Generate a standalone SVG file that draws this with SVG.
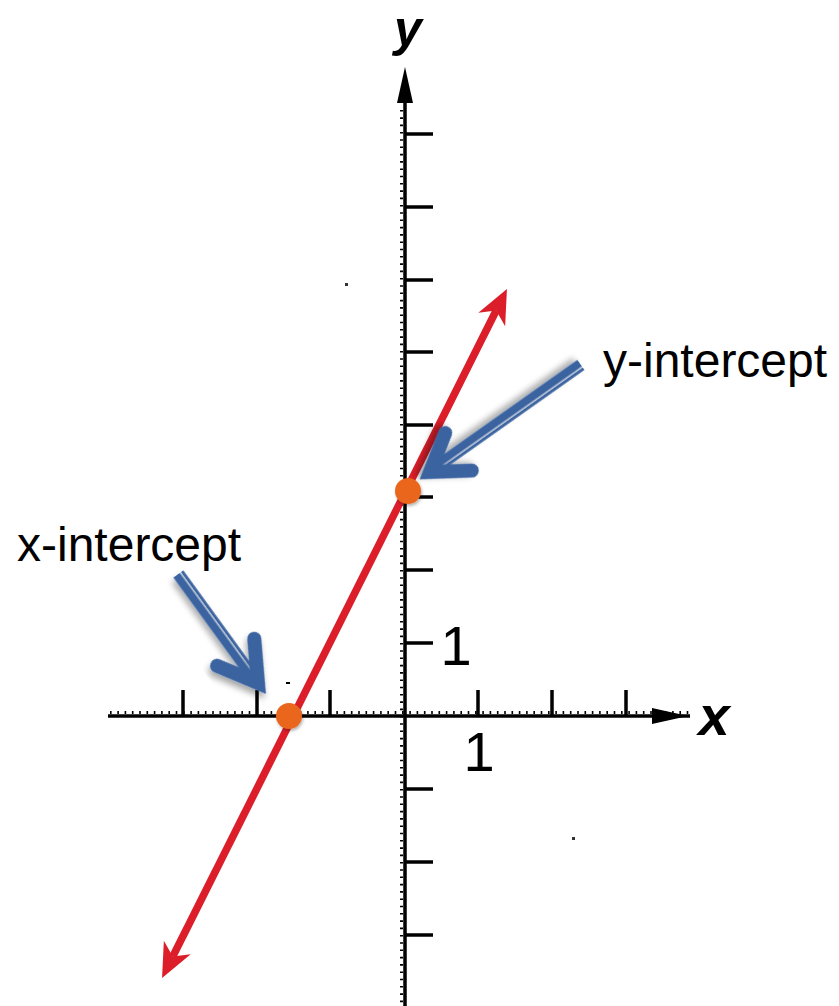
<svg xmlns="http://www.w3.org/2000/svg" width="839" height="1006" viewBox="0 0 839 1006">
  <style>
    .axis { stroke: #000; stroke-width: 3.5; fill: none; }
    .major { stroke: #000; stroke-width: 3.5; }
    .minor { stroke: #000; stroke-width: 3; fill: none; stroke-dasharray: 1.6 5.7; }
    .scan { font-family: "Liberation Sans", Arial, sans-serif; fill: #000; }
    .label { font-family: "Liberation Sans", Arial, sans-serif; font-size: 48px; fill: #000; }
    .redline { stroke: #DC1E2A; stroke-width: 7.5; fill: none; }
    .blue { stroke: #3A63A0; fill: none; }
    .dot { fill: #E9661B; }
  </style>
  <defs>
    <marker id="redhead" markerUnits="userSpaceOnUse" markerWidth="40" markerHeight="40" refX="-24" refY="0" orient="auto-start-reverse" overflow="visible">
      <path d="M0,0 L-34,-15 L-24,0 L-34,15 Z" fill="#DC1E2A"/>
    </marker>
    <filter id="shadow" x="-30%" y="-30%" width="160%" height="160%">
      <feDropShadow dx="3" dy="4" stdDeviation="3" flood-color="#000" flood-opacity="0.35"/>
    </filter>
    <filter id="dotshadow" x="-50%" y="-50%" width="200%" height="200%">
      <feDropShadow dx="1" dy="2" stdDeviation="1.5" flood-color="#000" flood-opacity="0.3"/>
    </filter>
  </defs>
  <rect width="839" height="1006" fill="#fff"/>

  <g id="axes">
    <!-- y axis -->
    <line class="axis" x1="405" y1="100" x2="405" y2="1006"/>
    <polygon points="405,67 413,103 397,103" fill="#000"/>
    <line class="minor" x1="401.5" y1="110" x2="401.5" y2="1006"/>
    <!-- x axis -->
    <line class="axis" x1="108" y1="716" x2="690" y2="716"/>
    <polygon points="652,708 688,716 652,724" fill="#000"/>
    <line class="minor" x1="110" y1="712.5" x2="690" y2="712.5"/>
    <!-- major ticks on x axis -->
    <g class="major">
      <line x1="183" y1="716" x2="183" y2="690"/>
      <line x1="257" y1="716" x2="257" y2="690"/>
      <line x1="330" y1="716" x2="330" y2="690"/>
      <line x1="478" y1="716" x2="478" y2="690"/>
      <line x1="552" y1="716" x2="552" y2="690"/>
      <line x1="626" y1="716" x2="626" y2="690"/>
    </g>
    <!-- major ticks on y axis -->
    <g class="major">
      <line x1="405" y1="134" x2="433" y2="134"/>
      <line x1="405" y1="207" x2="433" y2="207"/>
      <line x1="405" y1="280" x2="433" y2="280"/>
      <line x1="405" y1="352" x2="433" y2="352"/>
      <line x1="405" y1="425" x2="433" y2="425"/>
      <line x1="405" y1="497" x2="433" y2="497"/>
      <line x1="405" y1="570" x2="433" y2="570"/>
      <line x1="405" y1="643" x2="433" y2="643"/>
      <line x1="405" y1="789" x2="433" y2="789"/>
      <line x1="405" y1="862" x2="433" y2="862"/>
      <line x1="405" y1="935" x2="433" y2="935"/>
    </g>
    <text class="scan" x="408" y="46" font-size="50" font-style="italic" font-weight="bold" text-anchor="middle">y</text>
    <text class="scan" x="714" y="735" font-size="56" font-style="italic" font-weight="bold" text-anchor="middle">x</text>
    <text class="scan" x="456" y="665" font-size="56" text-anchor="middle">1</text>
    <text class="scan" x="479" y="771" font-size="56" text-anchor="middle">1</text>
    <!-- scan specks -->
    <rect x="345" y="283" width="3" height="3" fill="#333"/>
    <rect x="572" y="837" width="3" height="3" fill="#333"/>
    <rect x="286" y="682" width="4" height="2" fill="#000"/>
  </g>

  <g id="connectors">
    <line id="graph-line" class="redline" x1="172.8" y1="956.5" x2="496.2" y2="310.5" marker-start="url(#redhead)" marker-end="url(#redhead)"/>
    <g id="arrow-y-intercept" filter="url(#shadow)" transform="translate(430,472) rotate(144.75)">
      <line class="blue" x1="-185" y1="2.5" x2="0" y2="2.5" stroke-width="8"/>
      <line class="blue" x1="-185" y1="-4.3" x2="-6" y2="-4.3" stroke-width="3"/>
      <polyline class="blue" points="-35,23 0,0 -35,-23" stroke-width="14" stroke-linecap="round" stroke-linejoin="miter" stroke-miterlimit="10"/>
    </g>
    <g id="arrow-x-intercept" filter="url(#shadow)" transform="translate(258,683) rotate(54)">
      <line class="blue" x1="-135" y1="2.5" x2="0" y2="2.5" stroke-width="8"/>
      <line class="blue" x1="-135" y1="-4.3" x2="-6" y2="-4.3" stroke-width="3"/>
      <polyline class="blue" points="-38,23 0,0 -38,-23" stroke-width="14" stroke-linecap="round" stroke-linejoin="miter" stroke-miterlimit="10"/>
    </g>
  </g>

  <g id="y-intercept">
    <circle class="dot" cx="408" cy="491" r="13" filter="url(#dotshadow)"/>
    <text class="label" x="603" y="377">y-intercept</text>
  </g>

  <g id="x-intercept">
    <circle class="dot" cx="289" cy="716" r="13" filter="url(#dotshadow)"/>
    <text class="label" x="17" y="561">x-intercept</text>
  </g>
</svg>
